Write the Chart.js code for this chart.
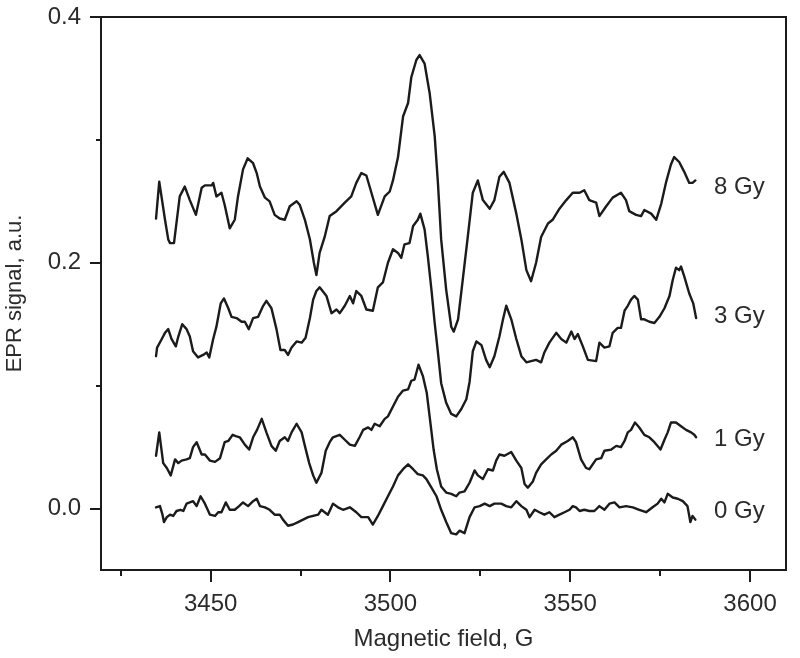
<!DOCTYPE html>
<html><head><meta charset="utf-8">
<script src="https://cdn.jsdelivr.net/npm/chart.js@4.4.1/dist/chart.umd.min.js"></script>
<style>html,body{margin:0;padding:0;background:#fff}canvas{display:block}</style>
</head><body>
<canvas id="c" width="800" height="658"></canvas>
<script>
// ---- data ----
const field8 = [3434.8,3435.7,3437.3,3438.2,3438.7,3439.8,3441.4,3442.8,3444.2,3445.9,3447.5,3448.4,3450.3,3450.7,3451.6,3453.0,3453.9,3455.3,3456.7,3457.6,3459.0,3460.3,3461.8,3462.8,3463.7,3465.1,3466.4,3467.8,3469.2,3470.6,3472.0,3473.9,3474.8,3476.2,3477.6,3478.7,3479.4,3480.3,3481.7,3483.1,3485.0,3487.3,3489.1,3490.5,3491.9,3493.3,3494.7,3496.5,3498.4,3499.8,3500.7,3502.1,3503.5,3504.9,3505.8,3507.2,3508.1,3509.5,3510.9,3512.3,3513.2,3514.1,3515.5,3516.9,3517.6,3518.8,3520.1,3521.5,3522.9,3524.3,3525.7,3527.6,3528.9,3530.3,3531.5,3533.1,3535.0,3536.4,3537.8,3539.1,3540.5,3541.9,3543.8,3545.1,3547.0,3548.9,3550.7,3552.6,3553.9,3555.3,3557.2,3558.1,3560.0,3561.8,3564.1,3565.5,3566.4,3568.3,3569.7,3570.6,3572.5,3573.9,3575.3,3576.6,3578.0,3578.9,3580.3,3581.7,3583.1,3584.0,3584.8];
const signal8 = [0.236,0.266,0.235,0.219,0.216,0.216,0.254,0.262,0.251,0.239,0.261,0.263,0.263,0.265,0.254,0.257,0.247,0.228,0.235,0.254,0.276,0.285,0.281,0.273,0.262,0.253,0.250,0.239,0.236,0.235,0.246,0.250,0.247,0.235,0.219,0.200,0.190,0.208,0.221,0.238,0.242,0.249,0.254,0.265,0.273,0.271,0.257,0.239,0.254,0.258,0.267,0.286,0.319,0.330,0.351,0.365,0.369,0.362,0.338,0.303,0.265,0.219,0.178,0.148,0.144,0.154,0.186,0.221,0.257,0.267,0.251,0.244,0.251,0.270,0.274,0.265,0.240,0.219,0.194,0.185,0.200,0.221,0.232,0.235,0.244,0.251,0.257,0.257,0.259,0.251,0.249,0.238,0.246,0.253,0.257,0.251,0.242,0.239,0.238,0.243,0.240,0.235,0.248,0.265,0.280,0.286,0.282,0.274,0.265,0.265,0.267];

const field3 = [3434.8,3435.1,3436.4,3437.3,3438.2,3439.1,3440.3,3441.0,3442.1,3443.3,3444.2,3445.1,3446.5,3447.9,3448.9,3449.6,3450.7,3451.6,3452.8,3453.7,3454.9,3455.8,3457.2,3458.6,3459.5,3460.6,3461.8,3463.2,3464.6,3465.5,3466.9,3468.3,3469.4,3470.6,3471.5,3472.5,3473.9,3475.3,3476.4,3477.6,3478.5,3479.4,3480.3,3482.2,3483.6,3485.0,3485.9,3487.3,3488.7,3489.6,3490.5,3491.9,3493.3,3495.1,3496.5,3497.9,3499.3,3500.7,3502.1,3503.0,3503.9,3505.3,3506.3,3507.6,3508.3,3509.5,3510.4,3511.4,3512.3,3513.2,3514.1,3515.5,3516.9,3518.3,3519.7,3521.1,3522.0,3522.9,3523.9,3525.3,3526.6,3527.6,3528.9,3530.3,3531.3,3532.2,3533.6,3535.0,3536.4,3537.8,3539.1,3540.5,3541.9,3542.8,3544.2,3546.1,3547.5,3548.9,3550.3,3551.2,3552.1,3553.5,3554.9,3557.2,3558.1,3559.5,3560.9,3561.8,3563.2,3564.1,3565.1,3566.0,3566.9,3567.8,3568.8,3569.7,3570.6,3572.0,3573.4,3574.8,3576.2,3577.6,3578.5,3579.4,3580.3,3580.8,3581.7,3583.1,3584.2,3585.0];
const signal3 = [0.124,0.131,0.138,0.143,0.146,0.138,0.132,0.140,0.150,0.146,0.140,0.128,0.123,0.125,0.127,0.123,0.138,0.148,0.167,0.171,0.163,0.156,0.155,0.152,0.152,0.146,0.155,0.156,0.165,0.169,0.163,0.146,0.129,0.129,0.125,0.131,0.136,0.135,0.139,0.155,0.170,0.177,0.180,0.173,0.159,0.162,0.159,0.165,0.173,0.167,0.177,0.173,0.162,0.161,0.180,0.184,0.200,0.211,0.208,0.204,0.215,0.216,0.230,0.235,0.240,0.227,0.205,0.178,0.151,0.127,0.102,0.086,0.077,0.075,0.081,0.089,0.103,0.128,0.136,0.133,0.121,0.115,0.124,0.140,0.154,0.165,0.154,0.138,0.124,0.119,0.120,0.121,0.119,0.127,0.135,0.143,0.138,0.135,0.144,0.138,0.142,0.132,0.121,0.120,0.135,0.131,0.132,0.143,0.147,0.147,0.161,0.165,0.170,0.173,0.170,0.154,0.154,0.152,0.151,0.156,0.163,0.173,0.186,0.196,0.194,0.197,0.189,0.175,0.167,0.155];

const field1 = [3434.8,3435.7,3436.8,3437.8,3438.9,3440.1,3441.0,3441.9,3443.3,3444.2,3445.1,3446.1,3447.5,3448.4,3449.8,3451.2,3452.6,3453.9,3454.9,3456.1,3457.0,3458.1,3459.5,3460.7,3461.8,3462.9,3464.2,3465.5,3466.9,3468.1,3469.2,3470.6,3471.5,3472.5,3473.9,3475.3,3476.2,3477.4,3478.5,3479.4,3480.8,3482.0,3483.1,3484.0,3485.9,3487.3,3488.7,3490.1,3491.4,3492.4,3493.8,3494.7,3495.6,3497.0,3498.4,3499.3,3500.7,3502.1,3503.5,3504.9,3505.8,3506.7,3507.8,3509.0,3510.1,3511.1,3512.0,3512.9,3514.1,3515.5,3516.9,3518.3,3519.2,3520.6,3522.0,3523.4,3524.3,3525.7,3527.1,3528.5,3529.4,3530.3,3531.7,3533.6,3535.0,3536.4,3537.3,3538.2,3539.6,3540.5,3541.9,3543.3,3544.7,3546.1,3547.5,3549.3,3550.7,3551.6,3553.0,3554.4,3555.3,3557.2,3558.6,3559.5,3561.4,3562.8,3564.1,3565.1,3566.0,3566.9,3568.0,3569.2,3570.6,3572.0,3573.4,3575.1,3576.2,3577.1,3578.0,3579.4,3580.8,3582.2,3583.6,3584.5,3585.0];
const signal1 = [0.043,0.062,0.037,0.033,0.027,0.040,0.037,0.039,0.040,0.041,0.050,0.054,0.044,0.044,0.039,0.038,0.041,0.054,0.055,0.060,0.059,0.058,0.052,0.048,0.058,0.064,0.073,0.062,0.051,0.047,0.055,0.058,0.055,0.062,0.069,0.062,0.051,0.037,0.027,0.021,0.029,0.047,0.054,0.058,0.060,0.056,0.052,0.051,0.058,0.064,0.066,0.064,0.069,0.067,0.073,0.075,0.083,0.091,0.096,0.097,0.104,0.105,0.117,0.108,0.094,0.070,0.048,0.032,0.018,0.013,0.012,0.010,0.013,0.014,0.021,0.031,0.027,0.024,0.032,0.031,0.039,0.044,0.043,0.046,0.039,0.033,0.020,0.017,0.022,0.029,0.036,0.040,0.044,0.047,0.052,0.055,0.058,0.054,0.040,0.033,0.032,0.040,0.041,0.047,0.048,0.051,0.050,0.055,0.062,0.064,0.070,0.066,0.060,0.058,0.054,0.048,0.056,0.062,0.070,0.070,0.067,0.064,0.062,0.060,0.058];

const field0 = [3434.8,3435.9,3436.6,3437.0,3437.8,3438.7,3439.6,3440.5,3441.6,3442.4,3443.3,3444.2,3445.1,3446.1,3447.2,3448.4,3449.8,3451.2,3452.1,3453.0,3454.2,3455.3,3456.7,3457.9,3459.0,3460.4,3461.8,3462.8,3463.7,3465.1,3466.4,3467.8,3469.2,3470.1,3471.5,3472.9,3474.3,3475.7,3477.1,3478.5,3479.9,3480.8,3481.7,3482.6,3484.0,3485.4,3486.8,3488.7,3490.5,3491.9,3493.8,3495.1,3496.5,3497.9,3499.3,3500.7,3502.1,3503.5,3504.9,3506.3,3507.6,3509.0,3510.0,3511.4,3512.8,3514.1,3515.5,3516.9,3518.3,3519.2,3520.6,3522.0,3523.4,3524.8,3526.2,3527.6,3528.9,3530.8,3532.2,3533.6,3535.0,3536.4,3537.8,3538.7,3540.1,3541.4,3542.8,3544.2,3545.6,3547.0,3548.4,3549.8,3550.7,3551.6,3552.6,3553.9,3555.3,3556.7,3558.1,3559.5,3560.9,3562.3,3563.7,3565.5,3567.4,3569.2,3571.1,3572.9,3574.3,3575.3,3576.2,3577.1,3578.5,3579.9,3581.3,3582.6,3583.4,3584.0,3584.8];
const signal0 = [0.001,0.002,-0.005,-0.011,-0.007,-0.005,-0.006,-0.002,-0.001,-0.002,0.004,0.005,0.006,0.002,0.010,0.004,-0.005,-0.006,-0.003,-0.003,0.005,-0.001,-0.001,0.002,0.005,0.002,0.006,0.008,0.002,0.001,-0.001,-0.005,-0.005,-0.009,-0.014,-0.013,-0.011,-0.009,-0.007,-0.006,-0.005,-0.001,-0.003,-0.005,0.004,0.001,-0.001,0.001,-0.003,-0.007,-0.007,-0.013,-0.006,0.002,0.010,0.018,0.027,0.032,0.036,0.032,0.028,0.027,0.024,0.017,0.010,-0.001,-0.011,-0.020,-0.021,-0.018,-0.020,-0.007,0.001,0.002,0.004,0.002,0.004,0.004,0.002,0.001,0.006,0.002,-0.001,-0.007,-0.001,-0.003,-0.005,-0.003,-0.007,-0.005,-0.003,-0.001,0.002,0.001,-0.002,-0.001,-0.002,-0.002,0.002,-0.001,0.004,0.005,0.001,0.002,0.001,-0.001,-0.003,0.001,0.004,0.008,0.005,0.012,0.009,0.008,0.006,0.002,-0.011,-0.006,-0.009];

const seriesNames = ['8 Gy', '3 Gy', '1 Gy', '0 Gy'];
const labelField = [3590, 3590, 3590, 3590];
const labelSignal = [0.261, 0.156, 0.056, -0.002];

const xMajorTicks = [3450, 3500, 3550, 3600];
const xMinorTicks = [3425, 3475, 3525, 3575];
const yMajorTicks = [0.0, 0.2, 0.4];
const yMinorTicks = [0.1, 0.3];

// ---- chart ----
const INK = '#1b1b1b';
const TXT = '#2b2b2b';
const FONT = '"Liberation Sans", Arial, Helvetica, sans-serif';

function series(xs, ys) { return xs.map((x, i) => ({ x: x, y: ys[i] })); }

const fieldSets = [field8, field3, field1, field0];
const signalSets = [signal8, signal3, signal1, signal0];

const frameAndTicks = {
  id: 'frameAndTicks',
  afterDraw(chart) {
    const { ctx, chartArea: a, scales: { x, y } } = chart;
    ctx.save();
    ctx.strokeStyle = INK;
    ctx.lineWidth = 2;
    ctx.strokeRect(a.left, a.top, a.right - a.left, a.bottom - a.top);
    ctx.beginPath();
    xMajorTicks.forEach(v => { const p = Math.round(x.getPixelForValue(v)); ctx.moveTo(p, a.bottom); ctx.lineTo(p, a.bottom + 12); });
    xMinorTicks.forEach(v => { const p = Math.round(x.getPixelForValue(v)); ctx.moveTo(p, a.bottom); ctx.lineTo(p, a.bottom + 6); });
    yMajorTicks.forEach(v => { const p = Math.round(y.getPixelForValue(v)); ctx.moveTo(a.left, p); ctx.lineTo(a.left - 11, p); });
    yMinorTicks.forEach(v => { const p = Math.round(y.getPixelForValue(v)); ctx.moveTo(a.left, p); ctx.lineTo(a.left - 5, p); });
    ctx.stroke();
    ctx.fillStyle = TXT;
    ctx.font = '24px ' + FONT;
    ctx.textAlign = 'left';
    ctx.textBaseline = 'middle';
    seriesNames.forEach((t, i) => {
      ctx.fillText(t, x.getPixelForValue(labelField[i]), y.getPixelForValue(labelSignal[i]));
    });
    ctx.restore();
  }
};

new Chart(document.getElementById('c'), {
  type: 'line',
  data: {
    datasets: seriesNames.map((name, i) => ({
      label: name,
      data: series(fieldSets[i], signalSets[i]),
      borderColor: INK,
      borderWidth: 2.4,
      pointRadius: 0,
      tension: 0,
      fill: false,
      borderJoinStyle: 'round',
      borderCapStyle: 'round'
    }))
  },
  options: {
    responsive: false,
    animation: false,
    devicePixelRatio: 1,
    layout: { padding: { left: 0, right: 14, top: 17, bottom: 0 } },
    plugins: { legend: { display: false }, tooltip: { enabled: false } },
    scales: {
      x: {
        type: 'linear',
        min: 3419.5,
        max: 3610,
        grid: { display: false, drawTicks: false, drawOnChartArea: false },
        border: { display: false },
        afterBuildTicks: s => { s.ticks = xMajorTicks.map(v => ({ value: v })); },
        afterFit: s => { s.height = 88; s.paddingLeft = 0; s.paddingRight = 0; },
        ticks: { color: TXT, font: { family: FONT, size: 24 }, padding: 20, maxRotation: 0, autoSkip: false, callback: v => String(v) },
        title: { display: true, text: 'Magnetic field, G', color: TXT, font: { family: FONT, size: 24 }, padding: { top: 0, bottom: 4 } }
      },
      y: {
        type: 'linear',
        min: -0.05,
        max: 0.4,
        grid: { display: false, drawTicks: false, drawOnChartArea: false },
        border: { display: false },
        afterBuildTicks: s => { s.ticks = yMajorTicks.map(v => ({ value: v })); },
        afterFit: s => { s.width = 101; s.paddingTop = 0; s.paddingBottom = 0; },
        ticks: { color: TXT, font: { family: FONT, size: 24 }, padding: 20, autoSkip: false, callback: v => Number(v).toFixed(1) },
        title: { display: true, text: 'EPR signal, a.u.', color: TXT, font: { family: FONT, size: 22 }, padding: { top: 2, bottom: 0 } }
      }
    }
  },
  plugins: [frameAndTicks]
});
</script>
</body></html>
